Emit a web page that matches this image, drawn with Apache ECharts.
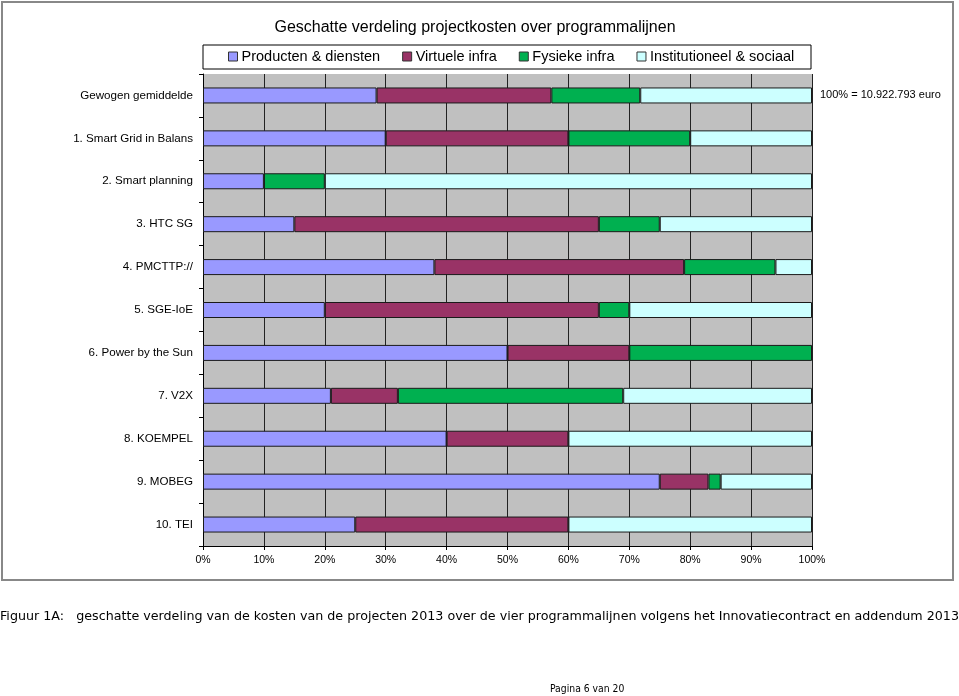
<!DOCTYPE html>
<html><head><meta charset="utf-8">
<script src="https://cdn.jsdelivr.net/npm/echarts@6/dist/echarts.min.js"></script>
<style>html,body{margin:0;padding:0;background:#fff}#c{width:959px;height:696px}</style>
</head><body><div id="c"></div>
<script>
const categories = ["Gewogen gemiddelde","1. Smart Grid in Balans","2. Smart planning","3. HTC SG","4. PMCTTP://","5. SGE-IoE","6. Power by the Sun","7. V2X","8. KOEMPEL","9. MOBEG","10. TEI"];
const seriesNames = ["Producten & diensten","Virtuele infra","Fysieke infra","Institutioneel & sociaal"];
const producten = [28.5, 30, 10, 15, 38, 20, 50, 21, 40, 75, 25];
const virtueel  = [28.7, 30, 0, 50, 41, 45, 20, 11, 20, 8, 35];
const fysiek    = [14.6, 20, 10, 10, 15, 5, 30, 37, 0, 2, 0];
const instit    = [28.2, 20, 80, 25, 6, 30, 0, 31, 40, 15, 40];
const xTicks = [0,10,20,30,40,50,60,70,80,90,100];
const titleText = "Geschatte verdeling projectkosten over programmalijnen";
const noteText = "100% = 10.922.793 euro";
const captionText = "Figuur 1A:   geschatte verdeling van de kosten van de projecten 2013 over de vier programmalijnen volgens het Innovatiecontract en addendum 2013";
const pageText = "Pagina 6 van 20";
const colors = ["#9999FF","#993366","#00B050","#CCFFFF"];

const chart = echarts.init(document.getElementById('c'), null, {renderer:'canvas'});
const allData = [producten, virtueel, fysiek, instit];
const font = "Liberation Sans, Arial, sans-serif";
const series = allData.map((arr,i)=>({
  name: seriesNames[i], type:'bar', stack:'s', barWidth:16,
  data: arr.map(v => v === 0 ? null : v),
  itemStyle:{color:colors[i], borderColor:'#1a1a1a', borderWidth:1},
  emphasis:{disabled:true}
}));
chart.setOption({
  animation:false,
  title:{text:titleText, left:470, top:15, textAlign:'center',
    textStyle:{fontFamily:font, fontSize:16, fontWeight:'normal', color:'#000'}},
  legend:{data:seriesNames.map(n=>({name:n, icon:'rect'})), left:223, top:44, itemWidth:9, itemHeight:9, itemGap:22,
    textStyle:{fontFamily:font, fontSize:14.5, color:'#000', padding:[0,0,0,-1]},
    itemStyle:{borderColor:'#333', borderWidth:1}, selectedMode:false},
  grid:{left:203, right:147, top:74, height:472, show:true, backgroundColor:'#C0C0C0', borderWidth:0},
  xAxis:{type:'value', min:0, max:100, interval:10,
    axisLine:{show:true, lineStyle:{color:'#000'}},
    axisTick:{show:true, length:4, lineStyle:{color:'#000'}},
    splitLine:{show:true, lineStyle:{color:'#222', width:1}},
    axisLabel:{formatter:'{value}%', fontFamily:font, fontSize:10.5, color:'#000', margin:9}},
  yAxis:{type:'category', data:categories, inverse:true,
    axisLine:{show:true, lineStyle:{color:'#000'}},
    axisTick:{show:true, length:4, lineStyle:{color:'#000'}},
    axisLabel:{fontFamily:font, fontSize:11.6, color:'#000', margin:10}},
  series:series,
  graphic:[
    {type:'rect', shape:{x:2,y:2,width:951,height:578}, style:{fill:null, stroke:'#888', lineWidth:2}, z:-10, silent:true},
    {type:'rect', shape:{x:203,y:45,width:608,height:24}, style:{fill:'#fff', stroke:'#000', lineWidth:1}, z:-1, silent:true},
    {type:'text', left:820, top:89, style:{text:noteText, font:'11px '+font, fill:'#000'}},
    {type:'text', left:0, top:610, style:{text:captionText, font:'12.7px DejaVu Sans, sans-serif', fill:'#000'}},
    {type:'text', left:550, top:684, style:{text:pageText, font:'10.3px DejaVu Sans Condensed, DejaVu Sans, sans-serif', fill:'#000'}}
  ]
});
</script></body></html>
